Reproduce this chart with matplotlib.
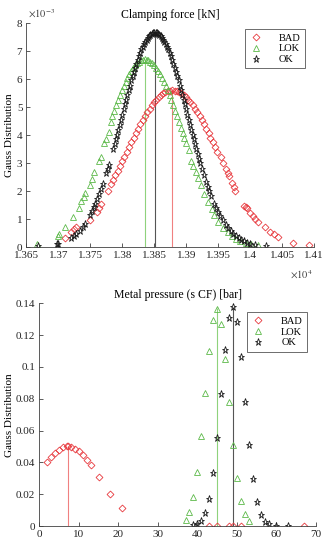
import matplotlib
matplotlib.use("Agg")
import matplotlib.pyplot as plt
from matplotlib.ticker import FuncFormatter, MultipleLocator

""" Gauss distributions of clamping force and metal pressure per class. """

plt.rcParams['font.family'] = ['Liberation Serif', 'DejaVu Serif']
plt.rcParams['mathtext.fontset'] = 'stix'

labels = ["BAD", "LOK", "OK"]
colors = ["#e8383d", "#5db94a", "#1a1a1a"]
line_colors = ["#f08080", "#8fd27c", "#555555"]

# Clamping force [kN], pdf values in units of 1e-3.
cf_bad_x = [13710, 13719, 13724, 13728, 13750, 13760, 13763, 13767, 13778,
            13782, 13786, 13789, 13793, 13796, 13800, 13803, 13807, 13811,
            13814, 13818, 13821, 13825, 13828, 13832, 13835, 13839, 13843,
            13846, 13850, 13853, 13857, 13860, 13864, 13867, 13871, 13874,
            13878, 13882, 13885, 13889, 13892, 13896, 13899, 13903, 13906,
            13910, 13914, 13917, 13921, 13924, 13928, 13931, 13935, 13938,
            13942, 13945, 13949, 13954, 13958, 13962, 13965, 13967, 13972,
            13975, 13977, 13991, 13993, 13995, 14000, 14004, 14008, 14013,
            14024, 14032, 14037, 14044, 14068, 14093]
cf_bad_y = [0.32, 0.53, 0.63, 0.70, 0.98, 1.27, 1.40, 1.55, 2.00,
            2.25, 2.41, 2.56, 2.73, 2.89, 3.06, 3.23, 3.40, 3.57,
            3.74, 3.90, 4.07, 4.23, 4.38, 4.53, 4.68, 4.81, 4.94,
            5.06, 5.17, 5.27, 5.35, 5.43, 5.49, 5.54, 5.57, 5.59,
            5.60, 5.59, 5.57, 5.54, 5.49, 5.43, 5.35, 5.27, 5.17,
            5.06, 4.94, 4.81, 4.68, 4.53, 4.38, 4.23, 4.07, 3.90,
            3.74, 3.57, 3.40, 3.20, 3.00, 2.80, 2.65, 2.55, 2.30,
            2.15, 2.00, 1.48, 1.42, 1.38, 1.20, 1.10, 1.00, 0.90,
            0.71, 0.53, 0.45, 0.36, 0.15, 0.08]

cf_lok_x = [13667, 13699, 13701, 13710, 13723, 13732, 13736, 13740, 13742,
            13749, 13752, 13756, 13764, 13767, 13772, 13775, 13779,
            13782, 13784, 13787, 13790, 13793, 13796, 13799, 13802, 13805,
            13808, 13811, 13814, 13817, 13820, 13823, 13826, 13829, 13832,
            13835, 13838, 13841, 13844, 13847, 13850, 13853, 13856, 13859,
            13862, 13865, 13868, 13871, 13874, 13877, 13880, 13883, 13886,
            13889, 13892, 13895, 13897, 13900, 13904, 13908, 13911, 13915,
            13919, 13923, 13928, 13934, 13940, 13944, 13950, 13958, 13965,
            13972, 13978, 13985, 13993, 14002, 14013]
cf_lok_y = [0.12, 0.40, 0.45, 0.71, 1.07, 1.39, 1.64, 1.80, 1.92,
            2.23, 2.43, 2.67, 3.09, 3.20, 3.71, 3.85, 4.12,
            4.47, 4.67, 4.86, 5.06, 5.24, 5.42, 5.60, 5.76, 5.91,
            6.05, 6.18, 6.30, 6.41, 6.49, 6.57, 6.62, 6.67, 6.69,
            6.70, 6.69, 6.67, 6.62, 6.57, 6.49, 6.41, 6.30, 6.18,
            6.05, 5.91, 5.76, 5.60, 5.42, 5.24, 5.06, 4.86, 4.67,
            4.47, 4.27, 4.06, 3.90, 3.70, 3.45, 3.09, 2.90, 2.67,
            2.45, 2.20, 1.90, 1.60, 1.35, 1.13, 0.90, 0.68, 0.53,
            0.38, 0.30, 0.22, 0.15, 0.10, 0.07]

cf_ok_x = [13668, 13697, 13699, 13720, 13724, 13728, 13733, 13738, 13742,
           13750, 13753, 13756, 13758, 13761, 13764, 13767, 13770, 13775,
           13777, 13779, 13786, 13788, 13790, 13792, 13794, 13796, 13798,
           13800, 13802, 13804, 13806, 13808, 13810, 13812, 13814, 13816,
           13818, 13820, 13822, 13824, 13826, 13828, 13830, 13832, 13834,
           13836, 13838, 13840, 13842, 13844, 13846, 13848, 13850, 13852,
           13854, 13856, 13858, 13860, 13862, 13864, 13866, 13868, 13870,
           13872, 13874, 13876, 13878, 13880, 13882, 13884, 13886, 13888,
           13890, 13892, 13894, 13896, 13898, 13900, 13902, 13904, 13906,
           13908, 13910, 13912, 13914, 13916, 13918, 13920, 13922, 13925,
           13928, 13931, 13934, 13936, 13939, 13944, 13947, 13950, 13953,
           13957, 13962, 13966, 13970, 13974, 13978, 13982, 13986, 13990,
           13995, 14000, 14007, 14025]
cf_ok_y = [0.05, 0.10, 0.11, 0.32, 0.39, 0.46, 0.58, 0.73, 0.84,
           1.16, 1.29, 1.44, 1.54, 1.71, 1.90, 2.07, 2.26, 2.63,
           2.79, 2.93, 3.50, 3.68, 3.86, 4.02, 4.18, 4.36, 4.54,
           4.73, 4.92, 5.10, 5.26, 5.42, 5.60, 5.77, 5.95, 6.11,
           6.25, 6.39, 6.54, 6.68, 6.82, 6.94, 7.06, 7.16, 7.25,
           7.34, 7.41, 7.48, 7.54, 7.58, 7.61, 7.64, 7.65, 7.65,
           7.64, 7.61, 7.58, 7.54, 7.48, 7.41, 7.34, 7.25, 7.16,
           7.06, 6.94, 6.82, 6.68, 6.54, 6.39, 6.25, 6.11, 5.95,
           5.77, 5.60, 5.42, 5.26, 5.10, 4.92, 4.73, 4.54, 4.36,
           4.18, 4.02, 3.86, 3.68, 3.50, 3.33, 3.16, 3.01, 2.79,
           2.56, 2.33, 2.13, 2.01, 1.84, 1.54, 1.38, 1.26, 1.12,
           0.96, 0.79, 0.67, 0.56, 0.47, 0.39, 0.32, 0.26, 0.22,
           0.16, 0.12, 0.085, 0.05]

cf_means = [13878, 13835, 13851]
cf_peaks = [5.60, 6.70, 7.65]

# Metal pressure (s CF) [bar].
mp_bad_x = [2, 3, 4, 5, 6, 7, 7.3, 8, 9, 10, 11, 12, 13, 15, 18, 21,
            43, 45, 48, 49, 51, 67]
mp_bad_y = [0.0405, 0.0436, 0.0462, 0.0481, 0.0494, 0.0500, 0.0500, 0.0498,
            0.0487, 0.0470, 0.0447, 0.0418, 0.0385, 0.0311, 0.0201, 0.0113,
            0, 0, 0, 0, 0, 0]

mp_lok_x = [37, 38, 39, 40, 41, 42, 43, 44, 45, 46, 47, 48, 49, 50, 51, 52, 53]
mp_lok_y = [0.0038, 0.0090, 0.0182, 0.0338, 0.0566, 0.0836, 0.1102, 0.1298,
            0.1365, 0.1272, 0.1052, 0.0778, 0.0512, 0.0302, 0.0158, 0.0073,
            0.0032]

mp_ok_x = [39, 40, 41, 42, 43, 44, 45, 46, 47, 48, 49, 50, 51, 52, 53, 54,
           55, 56, 57, 58, 60, 63]
mp_ok_y = [0.0004, 0.0012, 0.0034, 0.0081, 0.0172, 0.0331, 0.0555, 0.0830,
           0.1106, 0.1305, 0.1375, 0.1280, 0.1060, 0.0778, 0.0507, 0.0295,
           0.0153, 0.0069, 0.0025, 0.0010, 0.0001, 0.0]

mp_means = [7.2, 44.9, 48.9]
mp_peaks = [0.0500, 0.1368, 0.1375]

markers = [dict(marker='D', ms=3.5), dict(marker='^', ms=4.4),
           dict(marker='*', ms=5.2)]


def style_axes(ax):
    for side in ["top", "right"]:
        ax.spines[side].set_visible(False)
    for side in ["left", "bottom"]:
        ax.spines[side].set_color("#404040")
        ax.spines[side].set_linewidth(0.6)
    ax.tick_params(direction='in', length=3, width=0.6, labelsize=8,
                   color="#404040", labelcolor="#262626", pad=3)


def draw(ax, xs, ys, means, peaks):
    handles = []
    for i in range(3):
        ax.vlines(means[i], 0, peaks[i], color=line_colors[i], lw=0.8,
                  zorder=1)
    for i in range(3):
        h, = ax.plot(xs[i], ys[i], ls='none', mfc='none', mec=colors[i],
                     mew=0.6, label=labels[i], zorder=2, **markers[i])
        handles.append(h)
    return handles


def add_legend(ax, handles, anchor):
    leg = ax.legend(handles=handles, loc='upper right', bbox_to_anchor=anchor,
                    borderaxespad=0, fontsize=7.5, frameon=True, fancybox=False,
                    edgecolor="#555555", framealpha=1, handlelength=1.4,
                    handletextpad=1.5, borderpad=0.4, labelspacing=0.15)
    leg.get_frame().set_linewidth(0.6)


fig = plt.figure(figsize=(3.3, 5.43), dpi=100)
ax1 = fig.add_axes([0.0803, 0.545, 0.871, 0.4125])
ax2 = fig.add_axes([0.119, 0.0313, 0.8385, 0.410])

# Top: clamping force
style_axes(ax1)
h1 = draw(ax1, [cf_bad_x, cf_lok_x, cf_ok_x], [cf_bad_y, cf_lok_y, cf_ok_y],
          cf_means, cf_peaks)
ax1.set_xlim(13650, 14100)
ax1.set_ylim(0, 8)
ax1.xaxis.set_major_locator(MultipleLocator(50))
ax1.yaxis.set_major_locator(MultipleLocator(1))
ax1.xaxis.set_major_formatter(FuncFormatter(lambda v, p: "%g" % round(v / 1e4, 4)))
ax1.set_title("Clamping force [kN]", fontsize=8.5, pad=4)
ax1.set_ylabel("Gauss Distribution", fontsize=8)
ax1.yaxis.set_label_coords(-0.043, 0.5)
ax1.text(0.005, 1.022, r"$\times10^{-3}$", transform=ax1.transAxes,
         fontsize=7.5, color="#404040", va='baseline', ha='left')
ax1.text(0.997, -0.125, r"$\times10^{4}$", transform=ax1.transAxes,
         fontsize=7.5, color="#404040", va='center', ha='right')
add_legend(ax1, h1, (0.969, 0.973))

# Bottom: metal pressure
style_axes(ax2)
h2 = draw(ax2, [mp_bad_x, mp_lok_x, mp_ok_x], [mp_bad_y, mp_lok_y, mp_ok_y],
          mp_means, mp_peaks)
ax2.set_xlim(0, 70)
ax2.set_ylim(0, 0.14)
ax2.xaxis.set_major_locator(MultipleLocator(10))
ax2.yaxis.set_major_locator(MultipleLocator(0.02))
ax2.yaxis.set_major_formatter(FuncFormatter(lambda v, p: "%g" % round(v, 3)))
ax2.set_title("Metal pressure (s CF) [bar]", fontsize=8.5, pad=4)
ax2.set_ylabel("Gauss Distribution", fontsize=8)
ax2.yaxis.set_label_coords(-0.091, 0.5)
add_legend(ax2, h2, (0.968, 0.96))

fig.savefig("out.png", dpi=100)
